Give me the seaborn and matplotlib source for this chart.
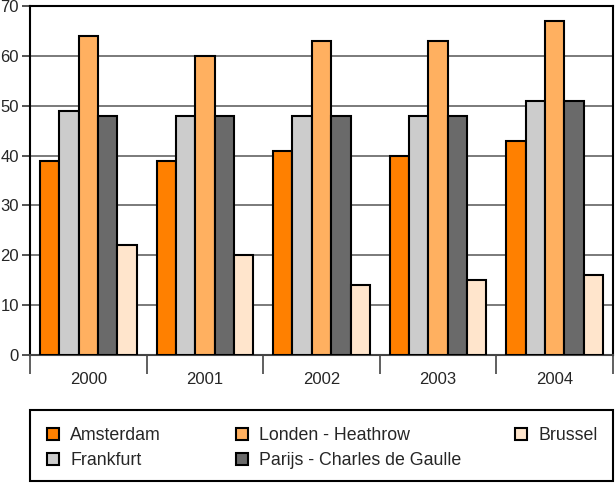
import matplotlib
matplotlib.use("Agg")
import matplotlib.pyplot as plt
import seaborn as sns
import pandas as pd
from matplotlib.patches import Rectangle

years = ["2000", "2001", "2002", "2003", "2004"]
series = ["Amsterdam", "Frankfurt", "Londen - Heathrow", "Parijs - Charles de Gaulle", "Brussel"]
amsterdam = [39, 39, 41, 40, 43]
frankfurt = [49, 48, 48, 48, 51]
londen = [64, 60, 63, 63, 67]
parijs = [48, 48, 48, 48, 51]
brussel = [22, 20, 14, 15, 16]
colors = ["#FF8000", "#CCCCCC", "#FFB060", "#6A6A6A", "#FFE5CC"]
yticks = [0, 10, 20, 30, 40, 50, 60, 70]

values = [amsterdam, frankfurt, londen, parijs, brussel]
rows = []
for s, vals in zip(series, values):
    for y, v in zip(years, vals):
        rows.append({"year": y, "series": s, "value": v})
df = pd.DataFrame(rows)

sns.set_theme(style="white")
plt.rcParams["font.family"] = ["Liberation Sans", "DejaVu Sans"]

fig = plt.figure(figsize=(6.15, 4.84), dpi=100)
ax = fig.add_axes([30/615, 1-355/484, (613-30)/615, (355-6)/484])

sns.barplot(data=df, x="year", y="value", hue="series", order=years, hue_order=series,
            palette=colors, saturation=1, width=0.83, edgecolor="black", linewidth=1.5,
            ax=ax, legend=True, zorder=3)

ax.set_ylim(0, 70)
ax.set_xlim(-0.5, 4.5)
ax.set_yticks(yticks)
ax.set_yticklabels([str(t) for t in yticks], fontsize=12)
ax.yaxis.grid(True, color="#707070", linewidth=1.3, zorder=0)
ax.set_axisbelow(True)
ax.tick_params(axis="y", left=True, length=6, width=1.3, color="#444444", pad=2)
ax.set_xticks(range(len(years)))
ax.set_xticklabels(years, fontsize=12)
ax.tick_params(axis="x", which="major", length=0, pad=12)
ax.set_xticks([i - 0.5 for i in range(len(years) + 1)], minor=True)
ax.tick_params(axis="x", which="minor", bottom=True, length=14, width=1.2, color="#444444")
ax.set_xlabel("")
ax.set_ylabel("")
for sp in ax.spines.values():
    sp.set_color("black")
    sp.set_linewidth(1.5)
    sp.set_visible(True)
ax.spines["bottom"].set_color("#444444")

handles, labels = ax.get_legend_handles_labels()
ax.get_legend().remove()
for h in handles:
    h.set_edgecolor("black")
    h.set_linewidth(1.5)

fig.patches.append(Rectangle((30/615, 1-481/484), (613-30)/615, (481-410)/484,
                             transform=fig.transFigure, fill=False, edgecolor="black",
                             linewidth=1.5))

col_groups = [[0, 1], [2, 3], [4]]
col_x = [47, 236, 515]
for idx, x in zip(col_groups, col_x):
    fig.legend([handles[i] for i in idx], [labels[i] for i in idx],
               loc="upper left", bbox_to_anchor=(x/615, 1-427/484),
               frameon=False, fontsize=12.8, handlelength=0.7, handleheight=0.7,
               handletextpad=0.62, labelspacing=0.45, borderpad=0, borderaxespad=0)

fig.savefig("out.png", dpi=100)
